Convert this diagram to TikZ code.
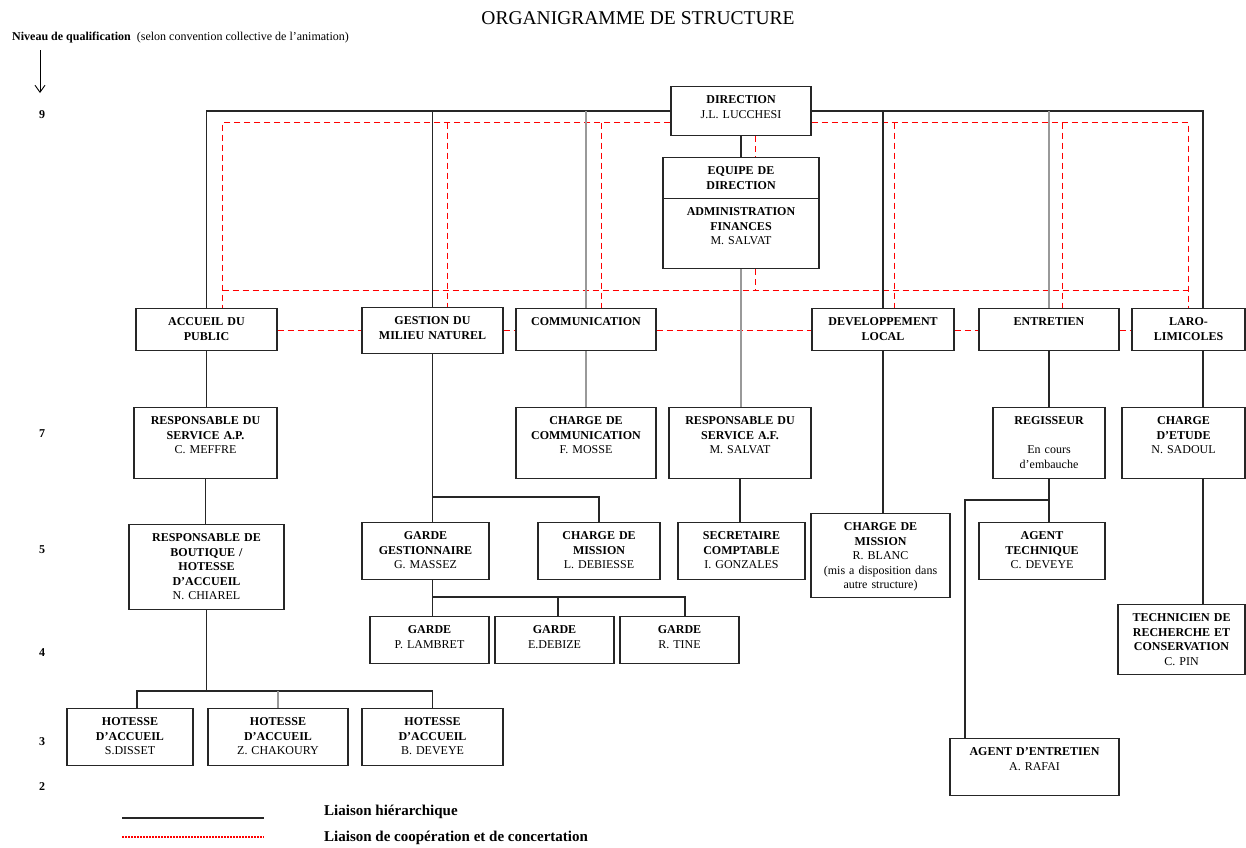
\documentclass[tikz,border=0pt]{standalone}
\usepackage{fontspec}
\setmainfont{Liberation Serif}
\usetikzlibrary{arrows.meta}

\begin{document}
\begin{tikzpicture}[x=1pt,y=-1pt,>={Straight Barb[length=7pt,width=10pt]},
	org box/.style n args={2}{draw=black!85,line width=1.1pt,anchor=north,align=center,
		inner xsep=2pt,inner ysep=4pt,text width=#1pt-4pt,text height=13pt,text depth=#2pt-21pt,
		font=\fontsize{12}{14.5}\selectfont},
	hier line/.style={draw=black!85,line width=1.2pt},
	pale line/.style={hier line,draw=black!40},
	coop line/.style={draw=red,line width=1.1pt,dash pattern=on 6pt off 4pt},
	lvl num/.style={font=\fontsize{12}{14}\selectfont\bfseries,inner sep=0pt}]
	
	\useasboundingbox (0,0) rectangle (1246,847);
	
	\node[font=\fontsize{19.5}{22}\selectfont] (title) at (638,18) {ORGANIGRAMME DE STRUCTURE};
	\node[anchor=west,inner sep=0pt,font=\fontsize{12}{14}\selectfont] (niv) at (12,38)
		{\textbf{Niveau de qualification}\hspace{6pt}(selon convention collective de l'animation)};
	\foreach \n/\y in {9/115,7/434,5/550,4/653,3/742,2/787}
		\node[lvl num] (lv\n) at (42,\y) {\n};
	\coordinate (ar) at (40,50);
	\coordinate (arb) at (40,93);
	\draw[->,line width=0.9pt] (ar) -- (arb);
	
	% direction
	\node[org box={140}{49}] (dir) at (741,86) {{\bfseries DIRECTION}\\ J.L. LUCCHESI};
	\node[org box={156}{41}] (equ) at (741,157) {\bfseries EQUIPE DE\\ DIRECTION};
	\node[org box={156}{70}] (adm) at (741,198) {{\bfseries ADMINISTRATION\\ FINANCES}\\ M. SALVAT};
	
	% services
	\node[org box={141}{42}] (acc) at (206.5,308) {\bfseries ACCUEIL DU\\ PUBLIC};
	\node[org box={141}{46}] (ges) at (432.5,307) {\bfseries GESTION DU\\ MILIEU NATUREL};
	\node[org box={140}{42}] (com) at (586,308) {\bfseries COMMUNICATION};
	\node[org box={142}{42}] (dev) at (883,308) {\bfseries DEVELOPPEMENT\\ LOCAL};
	\node[org box={140}{42}] (ent) at (1049,308) {\bfseries ENTRETIEN};
	\node[org box={113}{42}] (laro) at (1188.5,308) {\bfseries LARO-\\ LIMICOLES};
	
	\node[org box={143}{71}] (rap) at (205.5,407) {{\bfseries RESPONSABLE DU\\ SERVICE A.P.}\\ C. MEFFRE};
	\node[org box={140}{71}] (cco) at (586,407) {{\bfseries CHARGE DE\\ COMMUNICATION}\\ F. MOSSE};
	\node[org box={142}{71}] (raf) at (740,407) {{\bfseries RESPONSABLE DU\\ SERVICE A.F.}\\ M. SALVAT};
	\node[org box={112}{71}] (reg) at (1049,407) {{\bfseries REGISSEUR}\\[14.5pt] En cours\\ d'embauche};
	\node[org box={123}{71}] (etu) at (1183.5,407) {{\bfseries CHARGE\\ D'ETUDE}\\ N. SADOUL};
	
	\node[org box={155}{85}] (bout) at (206.5,524) {{\bfseries RESPONSABLE DE\\ BOUTIQUE /\\ HOTESSE\\ D'ACCUEIL}\\ N. CHIAREL};
	\node[org box={127}{57}] (gg) at (425.5,522) {{\bfseries GARDE\\ GESTIONNAIRE}\\ G. MASSEZ};
	\node[org box={122}{57}] (cm) at (599,522) {{\bfseries CHARGE DE\\ MISSION}\\ L. DEBIESSE};
	\node[org box={127}{57}] (sec) at (741.5,522) {{\bfseries SECRETAIRE\\ COMPTABLE}\\ I. GONZALES};
	\node[org box={139}{84}] (blanc) at (880.5,513) {{\bfseries CHARGE DE\\ MISSION}\\ R. BLANC\\ (mis a disposition dans\\ autre structure)};
	\node[org box={126}{57}] (tec) at (1042,522) {{\bfseries AGENT\\ TECHNIQUE}\\ C. DEVEYE};
	\node[org box={127}{70}] (rech) at (1181.5,604) {{\bfseries TECHNICIEN DE\\ RECHERCHE ET\\ CONSERVATION}\\ C. PIN};
	
	\node[org box={119}{47}] (g1) at (429.5,616) {{\bfseries GARDE}\\ P. LAMBRET};
	\node[org box={119}{47}] (g2) at (554.5,616) {{\bfseries GARDE}\\ E.DEBIZE};
	\node[org box={119}{47}] (g3) at (679.5,616) {{\bfseries GARDE}\\ R. TINE};
	
	\node[org box={126}{57}] (h1) at (130,708) {{\bfseries HOTESSE\\ D'ACCUEIL}\\ S.DISSET};
	\node[org box={140}{57}] (h2) at (278,708) {{\bfseries HOTESSE\\ D'ACCUEIL}\\ Z. CHAKOURY};
	\node[org box={141}{57}] (h3) at (432.5,708) {{\bfseries HOTESSE\\ D'ACCUEIL}\\ B. DEVEYE};
	\node[org box={169}{57}] (agt) at (1034.5,738) {{\bfseries AGENT D'ENTRETIEN}\\ A. RAFAI};
	
	% cooperation
	\coordinate (r1) at (222.5,122.5);
	\coordinate (r2) at (447.5,122.5);
	\coordinate (r3) at (601.5,122.5);
	\coordinate (r4) at (894.5,122.5);
	\coordinate (r5) at (1062.5,122.5);
	\coordinate (r6) at (1188.5,122.5);
	\coordinate (r7) at (755.5,290.5);
	\coordinate (rm) at (0,330.5);
	\draw[coop line] (r1 -| dir.west) -- (r1) -- (r1 |- acc.north);
	\draw[coop line] (r6 -| dir.east) -- (r6) -- (r6 |- laro.north);
	\draw[coop line] (r1 |- r7) -- (r6 |- r7);
	\foreach \r/\b in {r2/ges,r3/com,r4/dev,r5/ent}
		\draw[coop line] (\r) -- (\r |- \b.north);
	\draw[coop line] (r7 |- dir.south) -- (r7 |- equ.north);
	\draw[coop line] (r7 |- adm.south) -- (r7);
	\foreach \p/\q in {acc/ges,ges/com,com/dev,dev/ent,ent/laro}
		\draw[coop line] (\p.east |- rm) -- (\q.west |- rm);
	
	% hierarchy
	\coordinate (lx) at (1203,110);
	\draw[hier line] (dir.west) -| (acc.north);
	\draw[hier line] (dir.east) -| (lx |- laro.north);
	\foreach \b in {ges,dev}
		\draw[hier line] (\b.north |- dir.west) -- (\b.north);
	\foreach \b in {com,ent}
		\draw[pale line] (\b.north |- dir.west) -- (\b.north);
	\draw[hier line] (dir) -- (equ);
	\draw[pale line] (adm.south) -- (adm.south |- raf.north);
	\draw[hier line] (acc.south) -- (acc.south |- rap.north);
	\draw[hier line] (rap.south) -- (rap.south |- bout.north);
	\draw[hier line] (ges.south) -- (ges.south |- gg.north);
	\coordinate (gj) at (432.5,497);
	\draw[hier line] (gj) -| (cm.north);
	\draw[pale line] (com.south) -- (cco.north);
	\draw[hier line] (raf.south) -- (raf.south |- sec.north);
	\draw[hier line] (dev.south) -- (dev.south |- blanc.north);
	\draw[hier line] (ent.south) -- (reg.north);
	\draw[hier line] (reg.south) -- (reg.south |- tec.north);
	\coordinate (rj) at (1049,500);
	\coordinate (ax) at (965,500);
	\draw[hier line] (rj) -- (ax) -- (ax |- agt.north);
	\draw[hier line] (lx |- laro.south) -- (lx |- etu.north);
	\draw[hier line] (lx |- etu.south) -- (lx |- rech.north);
	
	\coordinate (gk) at (432.5,597);
	\coordinate (g2t) at ([xshift=3.5pt]g2.north);
	\coordinate (g3t) at ([xshift=5.5pt]g3.north);
	\draw[hier line] (gk |- gg.south) -- (gk |- g1.north);
	\draw[hier line] (gk) -| (g3t);
	\draw[hier line] (g2t) -- (g2t |- gk);
	
	\coordinate (hj) at (206.5,691);
	\coordinate (h1t) at ([xshift=7pt]h1.north);
	\draw[hier line] (bout.south) -- (bout.south |- hj);
	\draw[hier line] (h1t) |- (hj) -| (h3.north);
	\draw[pale line] (h2.north) -- (h2.north |- hj);
	
	% legend
	\coordinate (la) at (122,818);
	\coordinate (lb) at (264,818);
	\coordinate (lc) at (122,837);
	\coordinate (ld) at (264,837);
	\draw[hier line] (la) -- (lb);
	\draw[red,line width=1.1pt,dash pattern=on 1.5pt off 1.5pt] (lc) -- (ld);
	\node[anchor=west,inner sep=0pt,font=\fontsize{15}{17}\selectfont\bfseries] (lgh) at (324,812) {Liaison hiérarchique};
	\node[anchor=west,inner sep=0pt,font=\fontsize{15}{17}\selectfont\bfseries] (lgc) at (324,838) {Liaison de coopération et de concertation};
\end{tikzpicture}
\end{document}
